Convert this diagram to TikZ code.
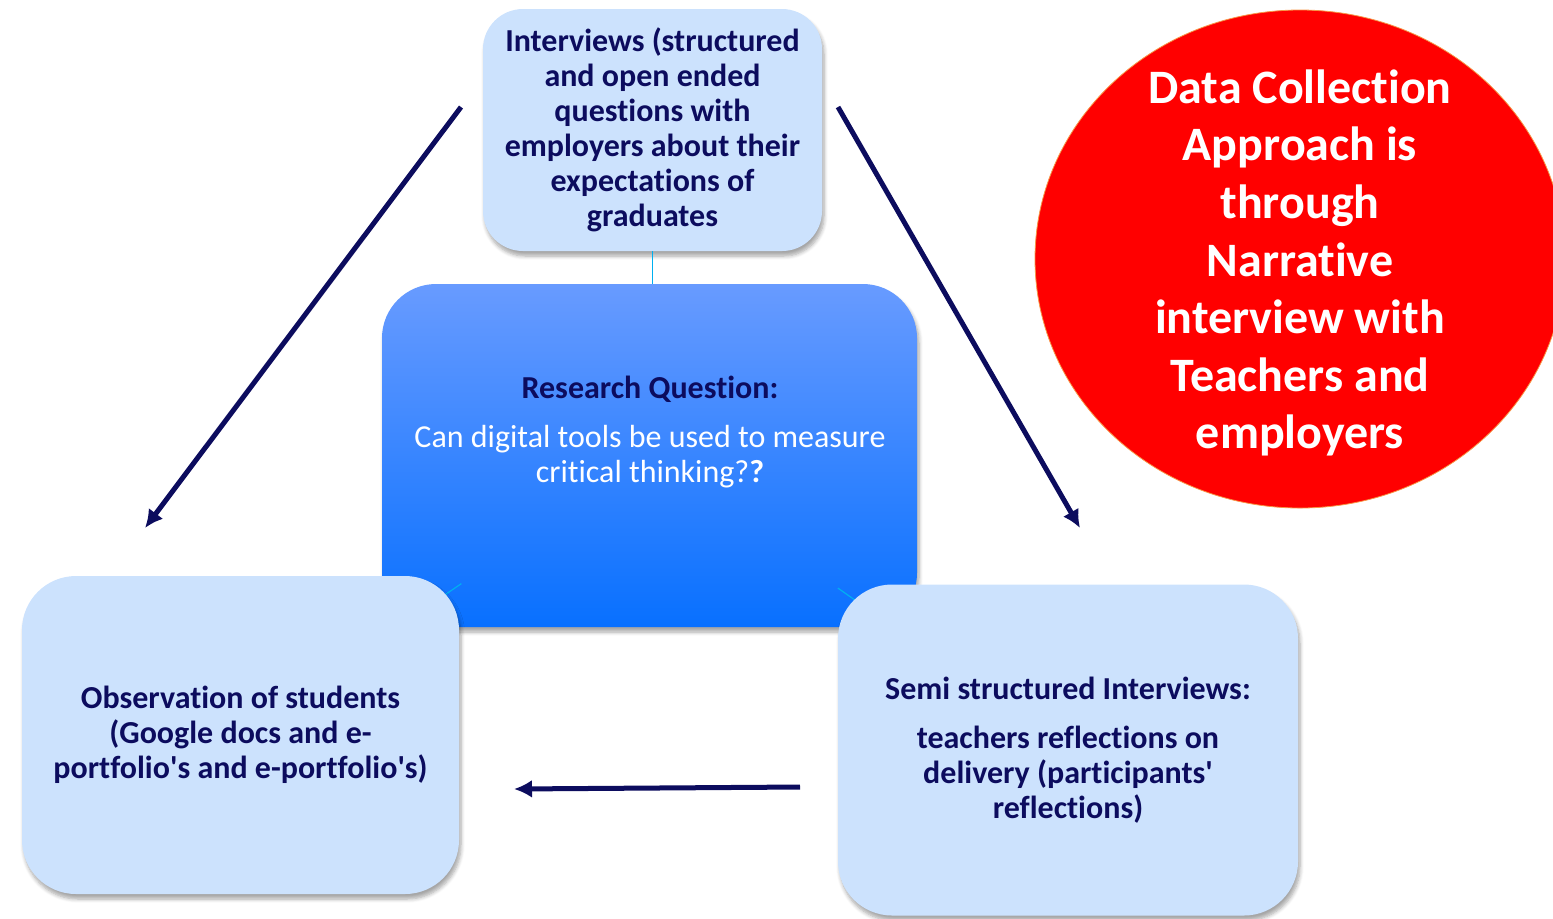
\documentclass[tikz,border=0pt]{standalone}
\usepackage{fontspec}
\setmainfont{Carlito}[Ligatures={TeX,NoCommon,NoContextual},Contextuals=NoAlternate]
\usetikzlibrary{calc,arrows.meta,shapes.geometric,shadows.blur}
\definecolor{boxblue}{RGB}{204,226,253}
\definecolor{inkblue}{RGB}{12,12,94}
\definecolor{rqtop}{RGB}{104,155,255}
\definecolor{rqbottom}{RGB}{8,112,255}
\definecolor{spokeblue}{RGB}{0,176,240}
\definecolor{rimorange}{RGB}{247,150,70}
\tikzset{
  softbox/.style={fill=boxblue, rounded corners=#1, align=center, inner sep=0pt,
    text=inkblue, font=\fontsize{16}{17.5}\selectfont\bfseries,
    blur shadow={shadow xshift=1pt, shadow yshift=-2.5pt, shadow blur steps=6, shadow opacity=35}},
  softbox/.default=27pt,
  spoke/.style={draw=spokeblue, line width=0.6pt},
  navyarrow/.style={draw=inkblue, line width=2.5pt, -{Latex[length=9pt,width=9pt]}}
}

\begin{document}
\begin{tikzpicture}[x=0.5pt,y=-0.5pt]
    \useasboundingbox (0,0) rectangle (1553,918);
    \clip (0,0) rectangle (1553,918); % the red ellipse runs off the right edge

    % the approach, in a red ellipse
    \node[ellipse, fill=red, draw=rimorange, line width=0.4pt,
          minimum width=265pt, minimum height=249pt, inner sep=0pt]
      (Approach) at (1300,259) {};
    \node[align=center, text=white, font=\fontsize{24}{28.8}\selectfont\bfseries]
      (ApproachText) at (1300,263)
      {Data Collection\\ Approach is\\ through\\ Narrative\\ interview with\\ Teachers and\\ employers};

    % employer interviews on top
    \node[softbox=20pt, minimum width=169.5pt, minimum height=121pt] (Interviews) at (652.5,130)
      {Interviews (structured\\ and open ended\\ questions with\\ employers about their\\ expectations of\\ graduates};

    % the research question in the middle
    \node[rounded corners=27pt, top color=rqtop, bottom color=rqbottom, draw=none,
          minimum width=267.5pt, minimum height=171.5pt,
          blur shadow={shadow xshift=1pt, shadow yshift=-2.5pt, shadow blur steps=6, shadow opacity=35}]
      (Question) at (649.5,455.5) {};
    \node[align=center, text=white, font=\fontsize{16}{17.5}\selectfont] (QuestionText) at (650,432)
      {\textcolor{inkblue}{\bfseries Research Question:}\\[7pt]
       Can digital tools be used to measure\\ critical thinking?\textbf{?}};

    % spokes, mostly hidden below the outer boxes
    \draw[spoke] (Interviews.south) -- (Interviews.south |- Question.north);
    \draw[spoke] ($(Question.center)!0.46!(240.5,734)$) -- (240.5,734);
    \draw[spoke] ($(Question.center)!0.45!(1068,750)$) -- (1068,750);

    % the two outer boxes
    \node[softbox, minimum width=218.5pt, minimum height=159pt] (Observation) at (240.5,735)
      {Observation of students\\ (Google docs and e-\\ portfolio\textquotesingle s and e-portfolio\textquotesingle s)};
    \node[softbox, minimum width=230pt, minimum height=165.5pt] (SemiInterviews) at (1068,750)
      {Semi structured Interviews:\\[7pt] teachers reflections on\\ delivery (participants\textquotesingle\\ reflections)};

    % free ends of the arrows
    \coordinate (LeftFrom)   at (461,107);
    \coordinate (LeftTo)     at (145,528);
    \coordinate (RightFrom)  at (838,107);
    \coordinate (RightTo)    at (1080,528);
    \coordinate (BottomFrom) at (800,787);
    \coordinate (BottomTo)   at (514,789);

    \draw[navyarrow] (LeftFrom) -- (LeftTo);
    \draw[navyarrow] (RightFrom) -- (RightTo);
    \draw[navyarrow] (BottomFrom) -- (BottomTo);
\end{tikzpicture}
\end{document}
